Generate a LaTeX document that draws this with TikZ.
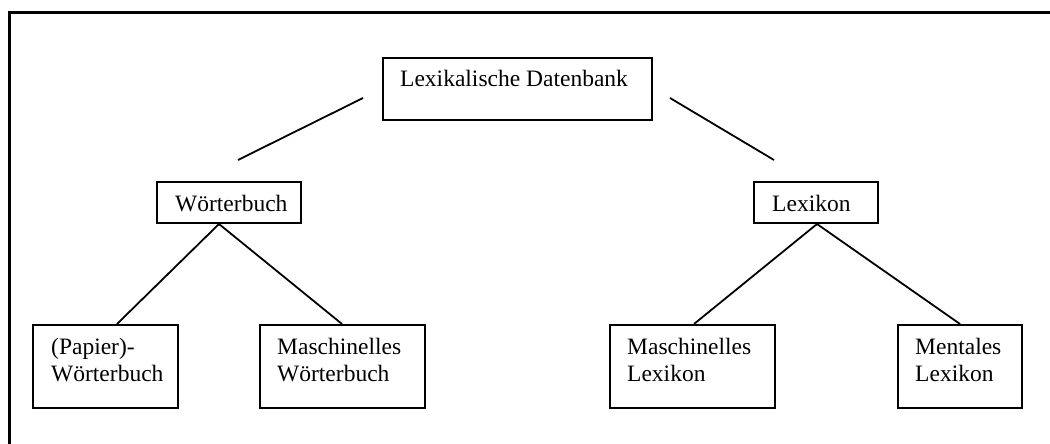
\documentclass[tikz,border=0pt]{standalone}
\usepackage{fontspec}
\setmainfont{Liberation Serif}
\usetikzlibrary{calc}
\tikzset{
  box/.style={draw, line width=2pt, inner sep=0pt, anchor=north west},
  txt/.style={inner sep=0pt, anchor=base west, align=left, font=\fontsize{23.5}{26.5}\selectfont},
  conn/.style={line width=1.8pt},
  frame/.style={line width=3pt}
}
\begin{document}
\begin{tikzpicture}[x=1pt,y=-1pt]
\useasboundingbox (0,0) rectangle (1050,444);
\clip (0,0) rectangle (1050,444);
\fill[white] (0,0) rectangle (1050,444);
\draw[frame] (9,13) rectangle (1080,480);

% boxes
\node[box, minimum width=269pt, minimum height=62pt] (top) at (382,57) {};
\node[box, minimum width=144pt, minimum height=41pt] (wb) at (156,181) {};
\node[box, minimum width=124pt, minimum height=41pt] (lx) at (753,181) {};
\node[box, minimum width=145pt, minimum height=83pt] (pw) at (32,324) {};
\node[box, minimum width=165pt, minimum height=83pt] (mw) at (259,324) {};
\node[box, minimum width=165pt, minimum height=83pt] (ml) at (609,324) {};
\node[box, minimum width=124pt, minimum height=83pt] (mt) at (897,324) {};

% texts (base anchor = last line)
\node[txt] (ttop) at ($(top.north west)+(18,30)$) {Lexikalische Datenbank};
\node[txt] (twb) at ($(wb.north west)+(19,30)$) {Wörterbuch};
\node[txt] (tlx) at ($(lx.north west)+(19,30)$) {Lexikon};
\node[txt] (tpw) at ($(pw.north west)+(19,57)$) {(Papier)-\\Wörterbuch};
\node[txt] (tmw) at ($(mw.north west)+(18,57)$) {Maschinelles\\Wörterbuch};
\node[txt] (tml) at ($(ml.north west)+(18,57)$) {Maschinelles\\Lexikon};
\node[txt] (tmt) at ($(mt.north west)+(18,57)$) {Mentales\\Lexikon};

% free connectors from top box
\coordinate (a1) at (363,98);
\coordinate (a2) at (238,160);
\coordinate (b1) at (670,98);
\coordinate (b2) at (774,160);
\draw[conn] (a1) -- (a2);
\draw[conn] (b1) -- (b2);

% tree connectors
\draw[conn] ([xshift=-10pt]wb.south) -- ([xshift=11.5pt]pw.north);
\draw[conn] ([xshift=-10pt]wb.south) -- ([xshift=-0.5pt]mw.north);
\draw[conn] ([xshift=1pt]lx.south) -- ([xshift=1.5pt]ml.north);
\draw[conn] ([xshift=1pt]lx.south) -- ([xshift=0pt]mt.north);
\end{tikzpicture}
\end{document}
